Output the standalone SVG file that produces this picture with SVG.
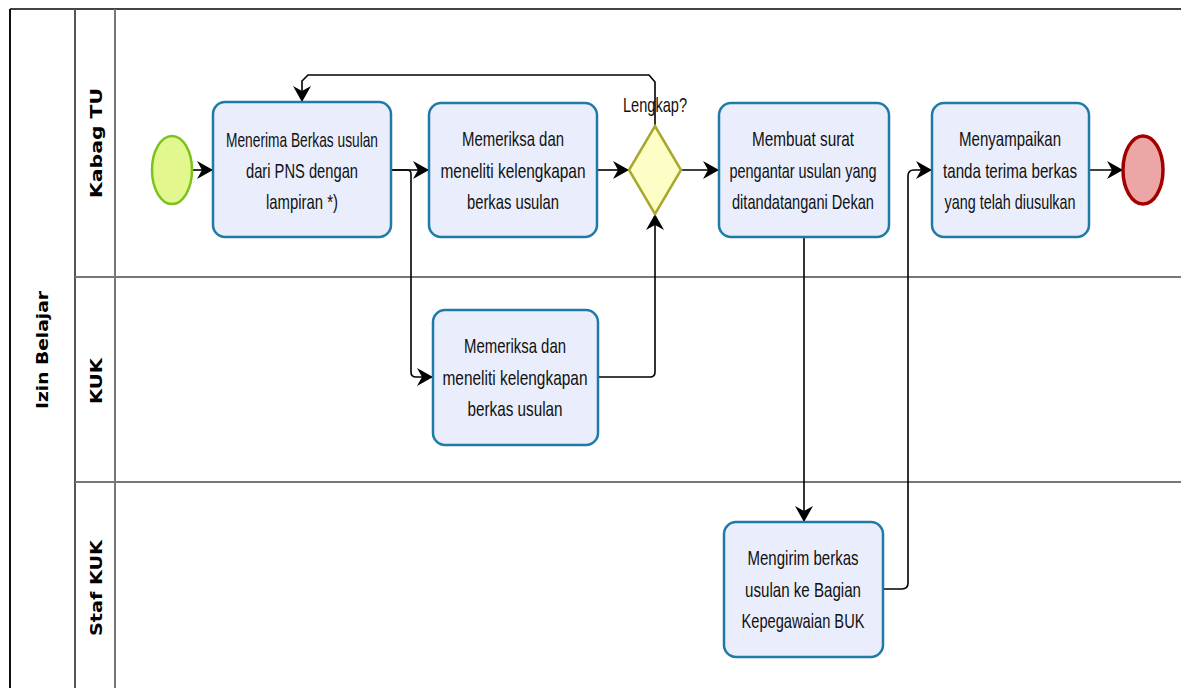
<svg xmlns="http://www.w3.org/2000/svg" width="1181" height="688" viewBox="0 0 1181 688">
  <style>
    .task { fill: #eaeefc; stroke: #1f7aa6; stroke-width: 2.5; }
    .tl { font-family: "Liberation Sans Narrow", "Liberation Sans", sans-serif; font-size: 21px; fill: #111; text-anchor: middle; }
    .hdr { font-family: "DejaVu Sans", "Liberation Sans", sans-serif; font-weight: bold; font-size: 16px; fill: #000; text-anchor: middle; }
    .flow { fill: none; stroke: #000; stroke-width: 1.6; }
    .border { fill: none; stroke-width: 2; }
  </style>
  <defs>
    <marker id="arrow" markerUnits="userSpaceOnUse" markerWidth="16" markerHeight="18" refX="15" refY="9" orient="auto">
      <path d="M0,0 L16,9 L0,18 L5,9 z" fill="#000"/>
    </marker>
  </defs>

  <rect width="1181" height="688" fill="#fff"/>

  <!-- pool and lanes -->
  <g id="pool">
    <line x1="10" y1="9" x2="1181" y2="9" class="border" stroke="#444"/>
    <line x1="10" y1="9" x2="10" y2="688" class="border" stroke="#111"/>
    <line x1="75" y1="9" x2="75" y2="688" class="border" stroke="#555"/>
    <line x1="115" y1="9" x2="115" y2="688" class="border" stroke="#777"/>
    <line x1="75" y1="277" x2="1181" y2="277" class="border" stroke="#777"/>
    <line x1="75" y1="482" x2="1181" y2="482" class="border" stroke="#777"/>
    <text class="hdr" transform="translate(48,350) rotate(-90)" textLength="118" lengthAdjust="spacingAndGlyphs">Izin Belajar</text>
    <text class="hdr" transform="translate(102,143) rotate(-90)" textLength="110" lengthAdjust="spacingAndGlyphs">Kabag TU</text>
    <text class="hdr" transform="translate(102,381) rotate(-90)" textLength="46" lengthAdjust="spacingAndGlyphs">KUK</text>
    <text class="hdr" transform="translate(102,588) rotate(-90)" textLength="96" lengthAdjust="spacingAndGlyphs">Staf KUK</text>
  </g>

  <!-- sequence flows -->
  <g id="connectors">
    <path class="flow" d="M192,170 L212,170" marker-end="url(#arrow)"/>
    <path class="flow" d="M391,170 L428,170" marker-end="url(#arrow)"/>
    <path class="flow" d="M391,170 L407,170 Q411,170 411,174 L411,372 Q411,377 416,377 L432,377" marker-end="url(#arrow)"/>
    <path class="flow" d="M598,377 L650,377 Q655,377 655,372 L655,215" marker-end="url(#arrow)"/>
    <path class="flow" d="M597,170 L628,170" marker-end="url(#arrow)"/>
    <path class="flow" d="M655,126 L655,82 L649,75 L308,75 L302,81 L302,101" marker-end="url(#arrow)"/>
    <path class="flow" d="M681,170 L718,170" marker-end="url(#arrow)"/>
    <path class="flow" d="M804,237 L804,521" marker-end="url(#arrow)"/>
    <path class="flow" d="M883,589 L902,589 Q908,589 908,583 L908,176 Q908,170 914,170 L931,170" marker-end="url(#arrow)"/>
    <path class="flow" d="M1089,170 L1122,170" marker-end="url(#arrow)"/>
  </g>

  <g id="start">
    <ellipse cx="172" cy="170" rx="20" ry="34" fill="#e2f88e" stroke="#7cc21e" stroke-width="2.5"/>
  </g>

  <g id="task-menerima">
    <rect class="task" x="213" y="102" width="178" height="135" rx="12"/>
    <text class="tl" x="302" y="147" textLength="152" lengthAdjust="spacingAndGlyphs">Menerima Berkas usulan</text>
    <text class="tl" x="302" y="178" textLength="112" lengthAdjust="spacingAndGlyphs">dari PNS dengan</text>
    <text class="tl" x="302" y="209" textLength="72" lengthAdjust="spacingAndGlyphs">lampiran *)</text>
  </g>

  <g id="task-memeriksa-kabag">
    <rect class="task" x="429" y="103" width="168" height="134" rx="12"/>
    <text class="tl" x="513" y="146" textLength="102" lengthAdjust="spacingAndGlyphs">Memeriksa dan</text>
    <text class="tl" x="513" y="178" textLength="145" lengthAdjust="spacingAndGlyphs">meneliti kelengkapan</text>
    <text class="tl" x="513" y="209" textLength="92" lengthAdjust="spacingAndGlyphs">berkas usulan</text>
  </g>

  <g id="gateway-lengkap">
    <path d="M655,126 L681,170 L655,214 L629,170 z" fill="#fdfdc6" stroke="#a8a82c" stroke-width="2.5"/>
    <text class="tl" x="655" y="112" textLength="64" lengthAdjust="spacingAndGlyphs">Lengkap?</text>
  </g>

  <g id="task-membuat-surat">
    <rect class="task" x="719" y="103" width="170" height="134" rx="12"/>
    <text class="tl" x="803" y="146" textLength="102" lengthAdjust="spacingAndGlyphs">Membuat surat</text>
    <text class="tl" x="803" y="178" textLength="147" lengthAdjust="spacingAndGlyphs">pengantar usulan yang</text>
    <text class="tl" x="803" y="209" textLength="142" lengthAdjust="spacingAndGlyphs">ditandatangani Dekan</text>
  </g>

  <g id="task-menyampaikan">
    <rect class="task" x="932" y="103" width="157" height="134" rx="12"/>
    <text class="tl" x="1010" y="146" textLength="102" lengthAdjust="spacingAndGlyphs">Menyampaikan</text>
    <text class="tl" x="1010" y="178" textLength="134" lengthAdjust="spacingAndGlyphs">tanda terima berkas</text>
    <text class="tl" x="1010" y="209" textLength="131" lengthAdjust="spacingAndGlyphs">yang telah diusulkan</text>
  </g>

  <g id="end">
    <ellipse cx="1143" cy="170" rx="20" ry="34" fill="#eca6a6" stroke="#a30000" stroke-width="3.5"/>
  </g>

  <g id="task-memeriksa-kuk">
    <rect class="task" x="433" y="310" width="165" height="135" rx="12"/>
    <text class="tl" x="515" y="353" textLength="102" lengthAdjust="spacingAndGlyphs">Memeriksa dan</text>
    <text class="tl" x="515" y="385" textLength="145" lengthAdjust="spacingAndGlyphs">meneliti kelengkapan</text>
    <text class="tl" x="515" y="416" textLength="95" lengthAdjust="spacingAndGlyphs">berkas usulan</text>
  </g>

  <g id="task-mengirim">
    <rect class="task" x="724" y="522" width="159" height="135" rx="12"/>
    <text class="tl" x="803" y="565" textLength="111" lengthAdjust="spacingAndGlyphs">Mengirim berkas</text>
    <text class="tl" x="803" y="597" textLength="116" lengthAdjust="spacingAndGlyphs">usulan ke Bagian</text>
    <text class="tl" x="803" y="628" textLength="123" lengthAdjust="spacingAndGlyphs">Kepegawaian BUK</text>
  </g>
</svg>
